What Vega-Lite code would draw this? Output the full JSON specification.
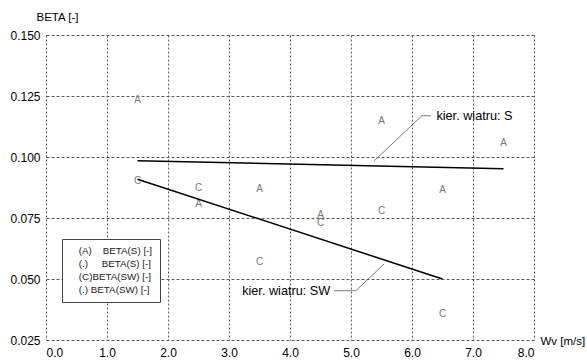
{
  "$schema": "https://vega.github.io/schema/vega-lite/v6.json",
  "width": 488,
  "height": 305,
  "autosize": {"type": "none"},
  "padding": {"left": 46, "top": 35, "right": 53, "bottom": 24},
  "background": "white",
  "config": {
    "view": {"stroke": null},
    "font": "Liberation Sans",
    "axis": {
      "domain": false,
      "ticks": false,
      "grid": true,
      "gridColor": "#5a5a5a",
      "gridWidth": 1,
      "gridOpacity": 1,
      "labelFont": "Liberation Sans",
      "labelFontSize": 12,
      "labelColor": "#000000",
      "titleFont": "Liberation Sans",
      "titleFontWeight": "normal",
      "titleFontSize": 11.5,
      "titleColor": "#000000",
      "titleAngle": 0,
      "titleBaseline": "middle",
      "titleAlign": "left"
    }
  },
  "datasets": {
    "points": [
      {"wv": 1.5, "beta": 0.1234, "mark": "A", "series": "(A)\u00a0\u00a0\u00a0\u00a0BETA(S) [-]"},
      {"wv": 2.5, "beta": 0.0806, "mark": "A", "series": "(A)\u00a0\u00a0\u00a0\u00a0BETA(S) [-]"},
      {"wv": 3.5, "beta": 0.0870, "mark": "A", "series": "(A)\u00a0\u00a0\u00a0\u00a0BETA(S) [-]"},
      {"wv": 4.5, "beta": 0.0762, "mark": "A", "series": "(A)\u00a0\u00a0\u00a0\u00a0BETA(S) [-]"},
      {"wv": 5.5, "beta": 0.1148, "mark": "A", "series": "(A)\u00a0\u00a0\u00a0\u00a0BETA(S) [-]"},
      {"wv": 6.5, "beta": 0.0865, "mark": "A", "series": "(A)\u00a0\u00a0\u00a0\u00a0BETA(S) [-]"},
      {"wv": 7.5, "beta": 0.1057, "mark": "A", "series": "(A)\u00a0\u00a0\u00a0\u00a0BETA(S) [-]"},
      {"wv": 1.5, "beta": 0.0902, "mark": "C", "series": "(C)BETA(SW) [-]"},
      {"wv": 2.5, "beta": 0.0874, "mark": "C", "series": "(C)BETA(SW) [-]"},
      {"wv": 3.5, "beta": 0.0571, "mark": "C", "series": "(C)BETA(SW) [-]"},
      {"wv": 4.5, "beta": 0.0728, "mark": "C", "series": "(C)BETA(SW) [-]"},
      {"wv": 5.5, "beta": 0.0779, "mark": "C", "series": "(C)BETA(SW) [-]"},
      {"wv": 6.5, "beta": 0.0357, "mark": "C", "series": "(C)BETA(SW) [-]"}
    ],
    "fits": [
      {"wv": 1.5, "beta": 0.0985, "series": "(.)\u00a0\u00a0\u00a0\u00a0\u00a0BETA(S) [-]"},
      {"wv": 7.5, "beta": 0.0952, "series": "(.)\u00a0\u00a0\u00a0\u00a0\u00a0BETA(S) [-]"},
      {"wv": 1.5, "beta": 0.0909, "series": "(.) BETA(SW) [-]"},
      {"wv": 6.5, "beta": 0.0500, "series": "(.) BETA(SW) [-]"}
    ],
    "leaders": [
      {"wv": 5.38, "beta": 0.0984, "name": "S", "order": 1},
      {"wv": 6.16, "beta": 0.1169, "name": "S", "order": 2},
      {"wv": 6.31, "beta": 0.1169, "name": "S", "order": 3},
      {"wv": 4.72, "beta": 0.0452, "name": "SW", "order": 1},
      {"wv": 5.08, "beta": 0.0452, "name": "SW", "order": 2},
      {"wv": 5.54, "beta": 0.0561, "name": "SW", "order": 3}
    ],
    "notes": [
      {"wv": 6.40, "beta": 0.1169, "label": "kier. wiatru: S", "side": "left"},
      {"wv": 4.66, "beta": 0.0452, "label": "kier. wiatru: SW", "side": "right"}
    ]
  },
  "encoding": {
    "x": {
      "field": "wv",
      "type": "quantitative",
      "scale": {"domain": [0, 8], "nice": false, "zero": false},
      "axis": {
        "values": [0, 1, 2, 3, 4, 5, 6, 7, 8],
        "format": ".1f",
        "gridDash": [2, 2],
        "labelPadding": 7,
        "title": "Wv [m/s]",
        "titleX": 494,
        "titleY": 1
      }
    },
    "y": {
      "field": "beta",
      "type": "quantitative",
      "scale": {"domain": [0.025, 0.15], "nice": false, "zero": false},
      "axis": {
        "values": [0.025, 0.05, 0.075, 0.1, 0.125, 0.15],
        "format": ".3f",
        "gridDash": [3, 2],
        "labelPadding": 6,
        "title": "BETA [-]",
        "titleX": -10,
        "titleY": -18
      }
    }
  },
  "layer": [
    {
      "data": {"name": "points"},
      "mark": {"type": "text", "font": "Liberation Sans", "fontSize": 10, "baseline": "middle", "align": "center"},
      "encoding": {
        "text": {"field": "mark"},
        "color": {
          "field": "series",
          "type": "nominal",
          "scale": {
            "domain": ["(A)\u00a0\u00a0\u00a0\u00a0BETA(S) [-]", "(.)\u00a0\u00a0\u00a0\u00a0\u00a0BETA(S) [-]", "(C)BETA(SW) [-]", "(.) BETA(SW) [-]"],
            "range": ["#7a7a7a", "#000000", "#7a7a7a", "#000000"]
          },
          "legend": {
            "orient": "none",
            "legendX": 16,
            "legendY": 204,
            "title": null,
            "symbolOpacity": 0,
            "symbolStrokeWidth": 0,
            "symbolSize": 0,
            "labelOffset": 0,
            "padding": 7,
            "rowPadding": 2,
            "strokeColor": "#444444",
            "fillColor": "#ffffff",
            "labelFont": "Liberation Sans",
            "labelFontSize": 9.8,
            "labelColor": "#222222"
          }
        }
      }
    },
    {
      "data": {"name": "fits"},
      "mark": {"type": "line", "strokeWidth": 1.5},
      "encoding": {
        "color": {"field": "series", "type": "nominal"}
      }
    },
    {
      "data": {"name": "leaders"},
      "mark": {"type": "line", "strokeWidth": 0.8, "color": "#555555"},
      "encoding": {
        "detail": {"field": "name"},
        "order": {"field": "order"}
      }
    },
    {
      "data": {"name": "notes"},
      "transform": [{"filter": "datum.side == 'left'"}],
      "mark": {"type": "text", "align": "left", "baseline": "middle", "font": "Liberation Sans", "fontSize": 12.7, "color": "#000000"},
      "encoding": {"text": {"field": "label"}}
    },
    {
      "data": {"name": "notes"},
      "transform": [{"filter": "datum.side == 'right'"}],
      "mark": {"type": "text", "align": "right", "baseline": "middle", "font": "Liberation Sans", "fontSize": 12.7, "color": "#000000"},
      "encoding": {"text": {"field": "label"}}
    }
  ]
}
